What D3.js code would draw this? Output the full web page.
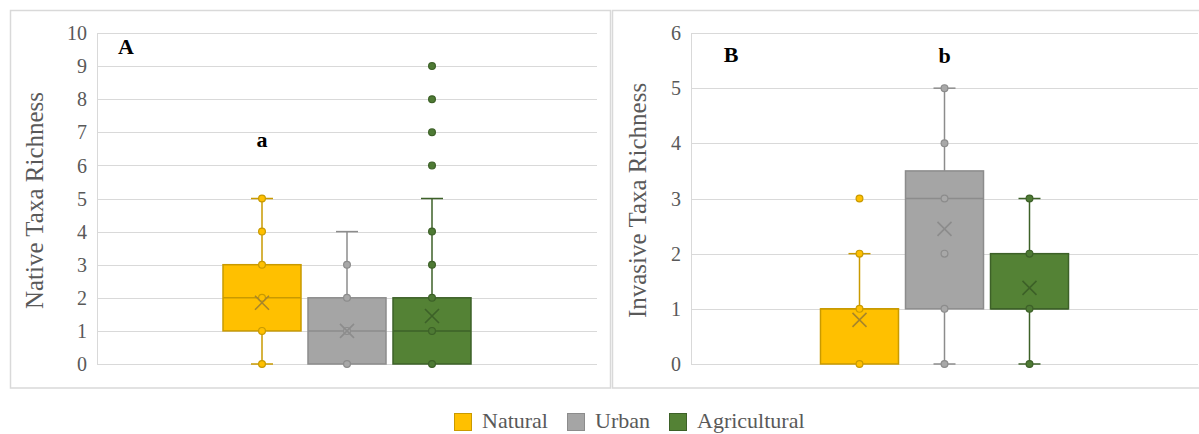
<!DOCTYPE html>
<html>
<head>
<meta charset="utf-8">
<script src="https://cdn.jsdelivr.net/npm/d3@7"></script>
<style>
  html, body { margin: 0; padding: 0; background: #fff; }
  svg { display: block; font-family: "Liberation Serif", "Times New Roman", serif; }
</style>
</head>
<body>
<svg id="chart" width="1199" height="434"></svg>
<script>
// Land-use categories and their colours
const categories = ["Natural", "Urban", "Agricultural"];
const fillColors = ["#FFC000", "#A5A5A5", "#548235"];
const strokeColors = ["#C99A00", "#8C8C8C", "#3D6128"];
const pointFills = ["#FFC000", "#A8A8A8", "#4E7A34"];

// Panel A: native taxa richness — five-number summaries, means and plotted points
const nativeMin = [0, 0, 0];
const nativeQ1 = [1, 0, 0];
const nativeMedian = [2, 1, 1];
const nativeQ3 = [3, 2, 2];
const nativeMax = [5, 4, 5];
const nativeMean = [1.85, 1.0, 1.45];
const nativePoints = [[0, 1, 2, 3, 4, 5], [0, 1, 2, 3], [0, 1, 2, 3, 4]];
const nativeOutliers = [[], [], [6, 7, 8, 9]];
const nativeTicks = [0, 1, 2, 3, 4, 5, 6, 7, 8, 9, 10];

// Panel B: invasive taxa richness
const invasiveMin = [0, 0, 0];
const invasiveQ1 = [0, 1, 1];
const invasiveMedian = [1, 3, 1];
const invasiveQ3 = [1, 3.5, 2];
const invasiveMax = [2, 5, 3];
const invasiveMean = [0.8, 2.45, 1.38];
const invasivePoints = [[0, 1, 2], [0, 1, 2, 3, 4, 5], [0, 1, 2, 3]];
const invasiveOutliers = [[3], [], []];
const invasiveTicks = [0, 1, 2, 3, 4, 5, 6];

// Significance letters
const nativeLetter = { cat: "Natural", value: 6.55, text: "a" };
const invasiveLetter = { cat: "Urban", value: 5.45, text: "b" };

const svg = d3.select("#chart");
const gridColor = "#D9D9D9";
const textColor = "#595959";

// Panel frames
svg.append("rect").attr("x", 10.5).attr("y", 10.5).attr("width", 600).attr("height", 377.5)
  .attr("fill", "none").attr("stroke", gridColor).attr("stroke-width", 1.5);
svg.append("rect").attr("x", 612.5).attr("y", 10.5).attr("width", 600).attr("height", 377.5)
  .attr("fill", "none").attr("stroke", gridColor).attr("stroke-width", 1.5);

function drawPanel(cfg) {
  const y = d3.scaleLinear().domain([0, cfg.yMax]).range([364, 33]);
  const center = (cfg.left + cfg.right) / 2;
  const x = d3.scaleBand().domain(categories)
    .range([center - 127.5, center + 127.5])
    .paddingInner(7 / 85).paddingOuter(3.5 / 85);

  const g = svg.append("g");

  // gridlines
  g.append("g").selectAll("line").data(cfg.ticks).join("line")
    .attr("x1", cfg.left).attr("x2", cfg.right)
    .attr("y1", d => Math.round(y(d)) + 0.5).attr("y2", d => Math.round(y(d)) + 0.5)
    .attr("stroke", gridColor).attr("stroke-width", 1.2);
  g.append("line").attr("x1", cfg.left + 0.5).attr("x2", cfg.left + 0.5)
    .attr("y1", y(cfg.yMax)).attr("y2", y(0)).attr("stroke", gridColor);

  // y axis labels
  const axis = d3.axisLeft(y).tickValues(cfg.ticks).tickFormat(d3.format("d")).tickSize(0).tickPadding(0);
  const ag = g.append("g").attr("transform", `translate(${cfg.left - 10},0)`).call(axis);
  ag.select(".domain").remove();
  ag.selectAll("text").attr("fill", textColor)
    .style("font-size", "20px").style("font-family", "'Liberation Serif', serif")
    .attr("dy", "0.33em");

  // axis title
  g.append("text")
    .attr("transform", `translate(${cfg.titleX},${(y(0) + y(cfg.yMax)) / 2 + 2}) rotate(-90)`)
    .attr("text-anchor", "middle").attr("dominant-baseline", "middle")
    .attr("fill", textColor).style("font-size", "25px").text(cfg.title);

  const cap = 11;
  categories.forEach((c, i) => {
    const cx = x(c) + x.bandwidth() / 2;
    const sc = strokeColors[i];
    const bg = g.append("g");
    // whiskers
    if (cfg.max[i] > cfg.q3[i]) {
      bg.append("line").attr("x1", cx).attr("x2", cx).attr("y1", y(cfg.q3[i])).attr("y2", y(cfg.max[i]))
        .attr("stroke", sc).attr("stroke-width", 1.5);
      bg.append("line").attr("x1", cx - cap).attr("x2", cx + cap).attr("y1", y(cfg.max[i])).attr("y2", y(cfg.max[i]))
        .attr("stroke", sc).attr("stroke-width", 1.5);
    }
    if (cfg.min[i] < cfg.q1[i]) {
      bg.append("line").attr("x1", cx).attr("x2", cx).attr("y1", y(cfg.q1[i])).attr("y2", y(cfg.min[i]))
        .attr("stroke", sc).attr("stroke-width", 1.5);
      bg.append("line").attr("x1", cx - cap).attr("x2", cx + cap).attr("y1", y(cfg.min[i])).attr("y2", y(cfg.min[i]))
        .attr("stroke", sc).attr("stroke-width", 1.5);
    }
    // box
    bg.append("rect").attr("x", x(c)).attr("width", x.bandwidth())
      .attr("y", y(cfg.q3[i])).attr("height", y(cfg.q1[i]) - y(cfg.q3[i]))
      .attr("fill", fillColors[i]).attr("stroke", sc).attr("stroke-width", 1.5);
    // median
    bg.append("line").attr("x1", x(c)).attr("x2", x(c) + x.bandwidth())
      .attr("y1", y(cfg.median[i])).attr("y2", y(cfg.median[i]))
      .attr("stroke", sc).attr("stroke-width", 1.5);
    // inner points and outliers
    bg.selectAll("circle").data(cfg.points[i].concat(cfg.outliers[i])).join("circle")
      .attr("cx", cx).attr("cy", d => y(d)).attr("r", 3.4)
      .attr("fill", pointFills[i]).attr("stroke", sc).attr("stroke-width", 1.2);
    // mean marker
    const m = y(cfg.mean[i]), s = 7;
    bg.append("path").attr("d", `M${cx - s},${m - s}L${cx + s},${m + s}M${cx - s},${m + s}L${cx + s},${m - s}`)
      .attr("stroke", i === 0 ? "#A8862A" : sc).attr("stroke-width", 1.6).attr("fill", "none");
  });

  // panel letter
  g.append("text").attr("x", cfg.panelX).attr("y", cfg.panelY)
    .attr("text-anchor", "middle").style("font-size", "22px").style("font-weight", "bold")
    .attr("fill", "#000").text(cfg.panel);
  // significance letter
  g.append("text").attr("x", x(cfg.letter.cat) + x.bandwidth() / 2).attr("y", y(cfg.letter.value))
    .attr("text-anchor", "middle").style("font-size", "22px").style("font-weight", "bold")
    .attr("fill", "#000").text(cfg.letter.text);
}

drawPanel({
  left: 97, right: 597, yMax: 10, ticks: nativeTicks, title: "Native Taxa Richness", titleX: 37,
  min: nativeMin, q1: nativeQ1, median: nativeMedian, q3: nativeQ3, max: nativeMax, mean: nativeMean,
  points: nativePoints, outliers: nativeOutliers, panel: "A", panelX: 126, panelY: 54, letter: nativeLetter
});
drawPanel({
  left: 691, right: 1198, yMax: 6, ticks: invasiveTicks, title: "Invasive Taxa Richness", titleX: 640,
  min: invasiveMin, q1: invasiveQ1, median: invasiveMedian, q3: invasiveQ3, max: invasiveMax, mean: invasiveMean,
  points: invasivePoints, outliers: invasiveOutliers, panel: "B", panelX: 731, panelY: 62, letter: invasiveLetter
});

// legend
const legendX = [454, 567, 669];
const lg = svg.append("g");
categories.forEach((c, i) => {
  lg.append("rect").attr("x", legendX[i] + 0.5).attr("y", 413.5).attr("width", 17).attr("height", 17)
    .attr("fill", fillColors[i]).attr("stroke", strokeColors[i]).attr("stroke-width", 1);
  lg.append("text").attr("x", legendX[i] + 28).attr("y", 423).attr("dominant-baseline", "middle")
    .attr("fill", textColor).style("font-size", "22px").text(c);
});
</script>
</body>
</html>
